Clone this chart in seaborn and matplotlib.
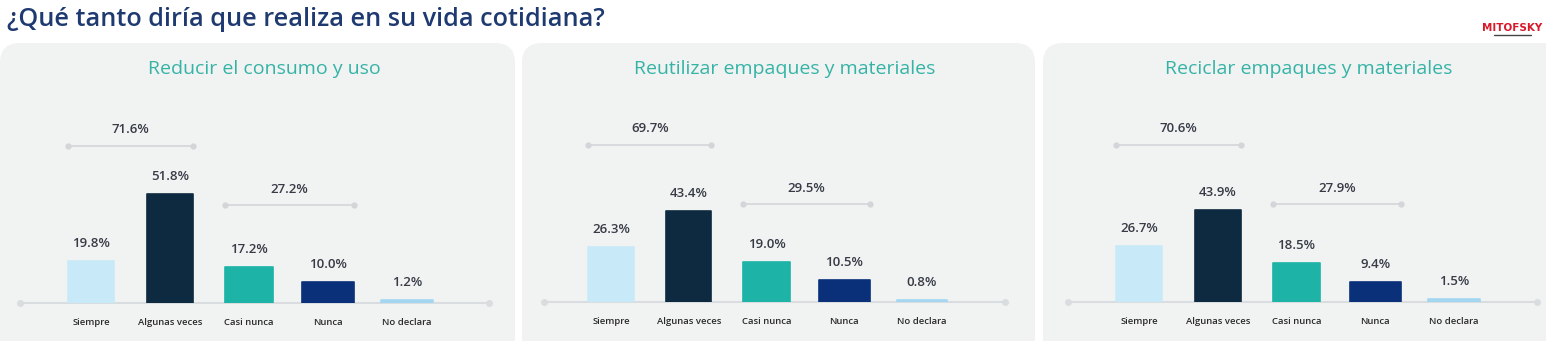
import matplotlib
matplotlib.use("Agg")
import matplotlib.pyplot as plt
import seaborn as sns
import pandas as pd
from matplotlib.patches import FancyBboxPatch

# ---------------- data ----------------
title = "¿Qué tanto diría que realiza en su vida cotidiana?"
panel_titles = ["Reducir el consumo y uso",
                "Reutilizar empaques y materiales",
                "Reciclar empaques y materiales"]
categories = ["Siempre", "Algunas veces", "Casi nunca", "Nunca", "No declara"]
reducir = [19.8, 51.8, 17.2, 10.0, 1.2]
reutilizar = [26.3, 43.4, 19.0, 10.5, 0.8]
reciclar = [26.7, 43.9, 18.5, 9.4, 1.5]
grupo_frecuente = [71.6, 69.7, 70.6]   # Siempre + Algunas veces
grupo_poco = [27.2, 29.5, 27.9]        # Casi nunca + Nunca
series = [reducir, reutilizar, reciclar]

# ---------------- style ----------------
bar_colors = ["#C8EAF8", "#0E2A40", "#1DB3A7", "#0A307A", "#A3D7F1"]
bar_widths = [0.58, 0.58, 0.60, 0.65, 0.65]
TITLE_C = "#1E3A70"
SUB_C = "#35B4A6"
VAL_C = "#363B45"
TICK_C = "#2A2A2A"
PANEL_C = "#F1F2F2"
LINE_C = "#DADDE0"
FONT = ["Open Sans", "DejaVu Sans"]

sns.set_theme(style="white")
plt.rcParams["font.family"] = FONT

W, H = 1546, 341
fig = plt.figure(figsize=(W / 100, H / 100), dpi=100)
fig.patch.set_facecolor("white")

# background axes in pixel coordinates
bg = fig.add_axes([0, 0, 1, 1], zorder=0)
bg.set_xlim(0, W)
bg.set_ylim(H, 0)
bg.axis("off")

panel_x = [(0, 515), (522, 1035), (1043, 1576)]
for x0, x1 in panel_x:
    bg.add_patch(FancyBboxPatch((x0, 43), x1 - x0, 330,
                                boxstyle="round,pad=0,rounding_size=20",
                                fc=PANEL_C, ec="none"))

bg.text(7, 19, title, ha="left", va="center", fontsize=18.2,
        color=TITLE_C, fontweight="semibold")

# logo
bg.text(1512, 28, "MITOFSKY", ha="center", va="center", fontsize=7.5,
        color="#D7192A", fontweight="bold",
        family=["Liberation Sans Narrow", "DejaVu Sans"])
bg.plot([1494, 1531], [34.5, 34.5], color="#444444", lw=1.0)

sub_cx = [264, 785, 1309]
for cx, t in zip(sub_cx, panel_titles):
    bg.text(cx, 69, t, ha="center", va="center", fontsize=14, color=SUB_C)

# panel geometry in pixels: (left, right, first bar centre, last bar centre, baseline)
geo = [(20, 489, 91, 407, 303),
       (544, 1005, 611, 922, 302),
       (1068, 1537, 1139, 1454, 302)]
PX_PER_PCT = 2.104
TOP = 53
B1, B2 = 74.8, 46.4

for i, (vals, (L, R, c0, c4, yb)) in enumerate(zip(series, geo)):
    s = (c4 - c0) / 4
    ax = fig.add_axes([L / W, (H - yb) / H, (R - L) / W, (yb - TOP) / H], zorder=2)
    ax.patch.set_alpha(0)
    df = pd.DataFrame({"cat": categories, "val": vals})
    sns.barplot(data=df, x="cat", y="val", hue="cat", order=categories,
                hue_order=categories, palette=bar_colors, legend=False,
                width=0.58, ax=ax, zorder=3, saturation=1)
    for p, w in zip(ax.patches, bar_widths):
        cx = p.get_x() + p.get_width() / 2
        p.set_x(cx - w / 2)
        p.set_width(w)
        p.set_edgecolor(p.get_facecolor())
        p.set_linewidth(1.2)
        p.set_joinstyle("round")
    xmin, xmax = (L - c0) / s, (R - c0) / s
    ax.set_xlim(xmin, xmax)
    ax.set_ylim(0, (yb - TOP) / PX_PER_PCT)
    # baseline
    ax.plot([xmin, xmax], [0, 0], color=LINE_C, lw=1.5, zorder=1, clip_on=False)
    ax.plot([xmin, xmax], [0, 0], "o", color=LINE_C, ms=4, zorder=1, clip_on=False)
    # value labels
    for j, v in enumerate(vals):
        ax.annotate(f"{v:.1f}%", (j, v), xytext=(0, 8), textcoords="offset points",
                    ha="center", va="bottom", fontsize=9.5, color=VAL_C,
                    fontweight="semibold")
    # brackets
    for (a, b), yv, gv in [((0, 1), B1, grupo_frecuente[i]), ((2, 3), B2, grupo_poco[i])]:
        xa, xb = a - bar_widths[a] / 2, b + bar_widths[b] / 2
        ax.plot([xa, xb], [yv, yv], color="#D3D6D9", lw=1.2, zorder=2)
        ax.plot([xa, xb], [yv, yv], "o", color="#D3D6D9", ms=3.5, zorder=2)
        ax.annotate(f"{gv:.1f}%", ((xa + xb) / 2, yv), xytext=(0, 7),
                    textcoords="offset points", ha="center", va="bottom",
                    fontsize=9.5, color=VAL_C, fontweight="semibold")
    ax.set_xlabel("")
    ax.set_ylabel("")
    ax.set_yticks([])
    ax.set_xticks(range(len(categories)))
    ax.set_xticklabels(categories, fontsize=6.8, color=TICK_C, fontweight="semibold")
    ax.tick_params(axis="x", length=0, pad=11)
    for sp in ax.spines.values():
        sp.set_visible(False)

fig.savefig("out.png", dpi=100, facecolor="white")
